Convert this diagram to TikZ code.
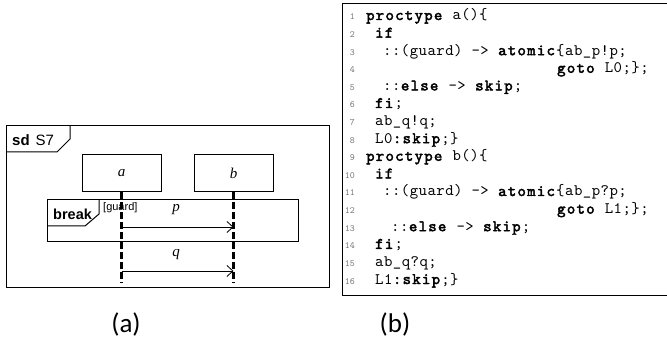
\documentclass[tikz,border=0pt]{standalone}
\usepackage{fontspec}
\setmainfont{Liberation Serif}
\setsansfont{Liberation Sans}
\newfontfamily\capfont{Carlito}
\newfontfamily\codefont{lmmono10-regular.otf}[
  LetterSpace=3,
  BoldFont=lmmono10-regular.otf,
  BoldFeatures={FakeBold=2.6, LetterSpace=8}]
\newfontfamily\numfont{lmmono10-regular.otf}
\usetikzlibrary{arrows.meta}
\newcommand\kw[1]{\textbf{#1}}

\tikzset{
  umlframe/.style={draw, line width=1pt},
  objbox/.style={draw, line width=1pt, minimum width=79pt, minimum height=37pt, inner sep=0pt,
                 font=\rmfamily\itshape\fontsize{15}{15}\selectfont},
  lifeline/.style={line width=2.4pt, dash pattern=on 7pt off 3pt},
  msg/.style={line width=0.8pt, -{Straight Barb[length=6pt,width=11pt]}},
  msglabel/.style={inner sep=0pt, font=\rmfamily\itshape\fontsize{15}{15}\selectfont},
  codeline/.style={anchor=base west, inner sep=0pt, font=\codefont\fontsize{16}{18}\selectfont},
  linenum/.style={anchor=base east, inner sep=0pt, text=black!55, font=\numfont\fontsize{9.5}{9.5}\selectfont},
  caption/.style={inner sep=0pt, font=\capfont\fontsize{27}{27}\selectfont}
}

\begin{document}
\begin{tikzpicture}[x=1pt, y=-1pt]
\useasboundingbox (0,0) rectangle (667,339);

% ---------- sequence diagram sd S7 ----------
\draw[umlframe] (6,126) rectangle (329,288);
\draw[umlframe] (6,152) -- (57,152) -- (70,139) -- (70,126);
\node[anchor=west, inner sep=0pt, font=\sffamily\fontsize{15}{15}\selectfont] (sdlabel) at (12,140)
  {\textbf{sd}\hspace{6pt}S7};

\node[objbox] (a) at (121.5,173.5) {a};
\node[objbox] (b) at (233.5,173.5) {b};

% break fragment
\draw[umlframe] (47,200) rectangle (298,242);
\draw[umlframe] (47,226) -- (85,226) -- (99,214) -- (99,200);
\node[anchor=west, inner sep=0pt, font=\sffamily\bfseries\fontsize{14.5}{14.5}\selectfont] (brk) at (53,214) {break};
\node[anchor=west, inner sep=0pt, font=\sffamily\fontsize{11}{11}\selectfont] (grd) at (103,208) {[guard]};

% lifelines
\coordinate (aend) at (121.5,283);
\coordinate (bend) at (233.5,283);
\draw[lifeline] (a.south) -- (aend);
\draw[lifeline] (b.south) -- (bend);

% messages
\coordinate (pa) at (121.5,227);
\coordinate (pb) at (233.5,227);
\coordinate (qa) at (121.5,271);
\coordinate (qb) at (233.5,271);
\draw[msg] (pa) -- (pb);
\draw[msg] (qa) -- (qb);
\node[msglabel] (plbl) at (176,210) {p};
\node[msglabel] (qlbl) at (176,255) {q};

\node[caption] (capa) at (126,324) {(a)};

% ---------- Promela listing ----------
\draw[line width=0.9pt] (668,3) -- (342.5,3) -- (342.5,295) -- (668,295);

\foreach \k in {1,...,16}
  \node[linenum] (n\k) at (355,{20+(\k-1)*17.6}) {\k};

\node[codeline] (l1)  at (366, 20.0) {\kw{proctype} a()\{};
\node[codeline] (l2)  at (375, 37.6) {\kw{if}};
\node[codeline] (l3)  at (383, 55.2) {::(guard) -> \kw{atomic}\{ab\_p!p;};
\node[codeline] (l4)  at (557, 72.8) {\kw{goto} L0;\};};
\node[codeline] (l5)  at (383, 90.4) {::\kw{else} -> \kw{skip};};
\node[codeline] (l6)  at (375,108.0) {\kw{fi};};
\node[codeline] (l7)  at (375,125.6) {ab\_q!q;};
\node[codeline] (l8)  at (375,143.2) {L0\kw{:skip};\}};
\node[codeline] (l9)  at (366,160.8) {\kw{proctype} b()\{};
\node[codeline] (l10) at (375,178.4) {\kw{if}};
\node[codeline] (l11) at (383,196.0) {::(guard) -> \kw{atomic}\{ab\_p?p;};
\node[codeline] (l12) at (557,213.6) {\kw{goto} L1;\};};
\node[codeline] (l13) at (391,231.2) {::\kw{else} -> \kw{skip};};
\node[codeline] (l14) at (375,248.8) {\kw{fi};};
\node[codeline] (l15) at (375,266.4) {ab\_q?q;};
\node[codeline] (l16) at (375,284.0) {L1\kw{:skip};\}};

\node[caption] (capb) at (395,324) {(b)};
\end{tikzpicture}
\end{document}
